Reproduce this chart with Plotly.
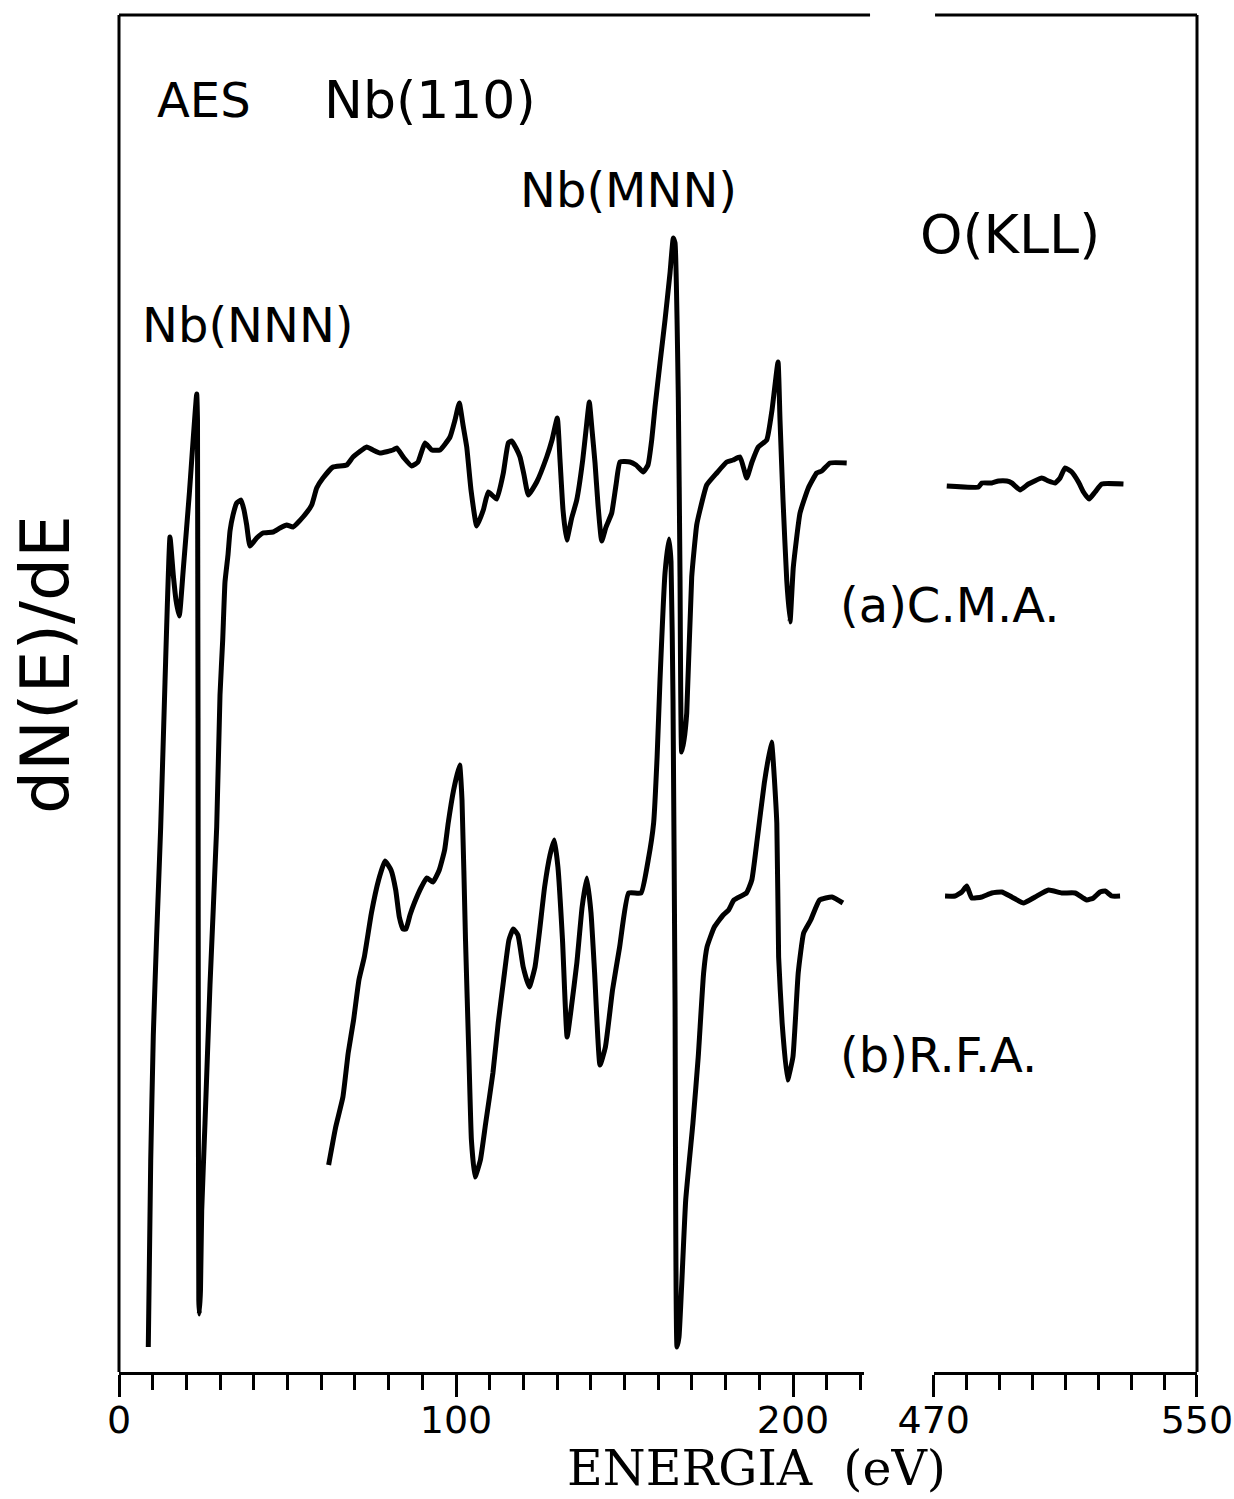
import plotly.graph_objects as go

# ---------------- data (energies in eV, dN/dE in arbitrary units) ----------------
a_low_E = [8.69, 9.41, 10.18, 11.19, 12.37, 13.65, 15.13, 16.11, 16.91, 17.89, 19.08, 20.86, 23.06, 23.29,
           23.53, 23.68, 23.83, 24.18, 24.54, 25.52, 27.00, 28.99, 29.97, 30.77, 31.45, 32.34, 32.94, 33.83,
           34.93, 36.20, 37.09, 37.89, 38.87, 40.86, 42.73, 45.70, 47.77, 49.76, 51.63, 54.60, 57.18, 58.66,
           60.53, 63.50, 67.57, 69.44, 73.50, 75.37, 77.45, 81.31, 82.40, 84.57, 86.85, 88.72, 90.80, 92.79,
           95.25, 98.22, 99.70, 100.98, 102.08, 103.18, 104.45, 106.14, 108.10, 109.58, 112.08, 114.04,
           115.52, 116.53, 117.80, 118.99, 120.18, 121.45, 123.95, 126.91, 128.49, 130.06, 130.86, 131.75,
           132.85, 134.33, 135.82, 137.60, 138.58, 139.55, 140.36, 141.25, 142.14, 143.23, 144.51, 146.20,
           147.48, 148.66, 151.63, 153.41, 155.58, 156.97, 158.07, 159.05, 160.53, 162.02, 163.50, 164.48,
           164.99, 165.96, 166.47, 166.97, 167.66, 168.46, 169.94, 171.42, 172.40, 174.39, 177.36, 180.33,
           182.20, 184.27, 186.26, 187.83, 189.70, 192.20, 193.77, 195.55, 196.14, 197.03, 198.13, 199.11,
           200.09, 202.08, 204.54, 207.03, 208.52, 210.98, 215.93]
a_low_I = [0.25, 2.11, 3.37, 4.38, 5.45, 6.90, 8.35, 7.97, 7.72, 7.56, 8.03, 8.78, 9.78, 9.52,
           3.62, 0.72, 0.58, 0.82, 1.61, 2.49, 3.87, 5.45, 6.77, 7.32, 7.90, 8.17, 8.41, 8.57,
           8.69, 8.72, 8.62, 8.47, 8.26, 8.34, 8.39, 8.40, 8.44, 8.47, 8.45, 8.55, 8.67, 8.84,
           8.94, 9.05, 9.07, 9.15, 9.25, 9.22, 9.19, 9.22, 9.24, 9.14, 9.06, 9.10, 9.29, 9.22,
           9.22, 9.35, 9.52, 9.69, 9.47, 9.25, 8.82, 8.46, 8.62, 8.80, 8.73, 8.99,
           9.29, 9.31, 9.24, 9.15, 8.97, 8.77, 8.90, 9.15, 9.32, 9.54, 9.12, 8.62,
           8.32, 8.54, 8.72, 9.12, 9.42, 9.70, 9.42, 9.09, 8.67, 8.31, 8.45, 8.59,
           8.87, 9.10, 9.10, 9.07, 9.00, 9.07, 9.32, 9.65, 10.09, 10.52, 10.99, 11.34,
           11.29, 9.75, 7.95, 6.20, 6.32, 6.59, 7.95, 8.47, 8.62, 8.87, 8.99, 9.10,
           9.12, 9.15, 8.94, 9.10, 9.25, 9.32, 9.62, 10.10, 9.52, 8.72, 7.92, 7.50,
           8.05, 8.59, 8.84, 8.99, 9.01, 9.09, 9.09]

a_high_E = [473.95, 483.59, 484.59, 487.63, 489.67, 492.19, 493.71, 496.23, 498.78, 502.83, 504.86,
            506.87, 508.39, 509.91, 511.95, 513.98, 515.50, 517.20, 519.03, 521.06, 527.66]
a_high_I = [8.86, 8.85, 8.89, 8.89, 8.91, 8.91, 8.89, 8.82, 8.88, 8.94, 8.91,
            8.89, 8.94, 9.04, 9.00, 8.90, 8.80, 8.73, 8.80, 8.88, 8.88]

b_low_E = [62.20, 64.30, 66.44, 68.01, 69.61, 71.19, 72.79, 74.90, 77.03, 78.93, 80.71, 82.11, 83.18,
           84.27, 85.16, 86.35, 87.63, 89.73, 91.34, 93.15, 95.04, 96.62, 97.69, 99.29, 101.07, 101.78,
           102.82, 103.83, 104.57, 105.64, 107.24, 108.81, 110.95, 112.52, 114.12, 115.70, 116.97, 118.37,
           119.94, 121.75, 123.44, 124.72, 126.29, 127.89, 129.17, 130.24, 131.60, 132.97, 134.24, 135.85,
           137.42, 138.81, 140.06, 141.13, 142.73, 144.33, 146.44, 148.55, 151.22, 154.90, 157.03, 158.64,
           159.67, 160.53, 162.02, 163.20, 163.80, 164.39, 164.99, 165.58, 166.17, 168.16, 170.30, 171.87,
           173.47, 174.48, 176.65, 179.29, 180.89, 182.46, 186.17, 187.77, 189.35, 191.48, 193.59, 195.19,
           195.73, 196.77, 198.37, 199.97, 201.54, 203.15, 205.25, 207.89, 211.57, 214.81]
b_low_I = [2.07, 2.45, 2.75, 3.19, 3.52, 3.92, 4.15, 4.59, 4.92, 5.11, 5.02, 4.82, 4.55,
           4.43, 4.43, 4.57, 4.69, 4.85, 4.94, 4.90, 5.02, 5.22, 5.49, 5.82, 6.07, 5.72,
           4.32, 3.15, 2.32, 1.95, 2.12, 2.49, 2.99, 3.49, 3.92, 4.32, 4.43, 4.37,
           4.05, 3.85, 4.05, 4.39, 4.85, 5.17, 5.32, 5.05, 4.32, 3.35, 3.65, 4.09,
           4.65, 4.94, 4.59, 3.99, 3.07, 3.25, 3.82, 4.25, 4.79, 4.79, 5.12, 5.49,
           6.15, 6.92, 7.99, 8.33, 8.10, 6.72, 3.72, 0.25, 0.35, 1.72, 2.49, 3.15,
           3.99, 4.25, 4.45, 4.57, 4.62, 4.72, 4.79, 4.92, 5.32, 5.89, 6.30, 5.49,
           4.15, 3.49, 2.92, 3.15, 3.99, 4.39, 4.52, 4.72, 4.75, 4.69]

b_high_E = [473.43, 476.47, 478.51, 480.03, 481.55, 484.59, 487.63, 490.67, 493.71, 497.26, 500.79,
            504.86, 508.91, 512.95, 516.50, 518.54, 520.55, 522.07, 524.10, 526.63]
b_high_I = [4.76, 4.76, 4.80, 4.86, 4.74, 4.75, 4.79, 4.80, 4.75, 4.69, 4.75,
            4.82, 4.79, 4.79, 4.72, 4.74, 4.80, 4.81, 4.76, 4.76]

low_tickvals = [0, 100, 200]
low_ticktext = ["0", "100", "200"]
high_tickvals = [470, 550]
high_ticktext = ["470", "550"]

# ---------------- figure ----------------
LINE = dict(color="black", width=5, shape="spline", smoothing=0.4)
fig = go.Figure()
fig.add_trace(go.Scatter(x=a_low_E, y=a_low_I, mode="lines", line=LINE, xaxis="x", yaxis="y"))
fig.add_trace(go.Scatter(x=b_low_E, y=b_low_I, mode="lines", line=LINE, xaxis="x", yaxis="y"))
fig.add_trace(go.Scatter(x=a_high_E, y=a_high_I, mode="lines", line=LINE, xaxis="x2", yaxis="y"))
fig.add_trace(go.Scatter(x=b_high_E, y=b_high_I, mode="lines", line=LINE, xaxis="x2", yaxis="y"))

tickfont = dict(family="DejaVu Sans", size=38, color="black")
common_x = dict(showline=True, linewidth=3, linecolor="black", ticks="outside", ticklen=22,
                tickwidth=3, tickcolor="black", showgrid=False, zeroline=False, tickfont=tickfont,
                fixedrange=True, ticklabeloverflow="allow", ticklabelstandoff=-10,
                automargin=False)

fig.update_layout(
    width=1234, height=1499,
    margin=dict(l=119, r=37, t=15, b=127),
    paper_bgcolor="white", plot_bgcolor="white",
    showlegend=False,
    xaxis=dict(domain=[0, 0.6909], range=[0, 221], tickmode="array", tickvals=low_tickvals,
               ticktext=low_ticktext, anchor="y",
               minor=dict(tickmode="linear", tick0=0, dtick=10, ticks="outside", ticklen=15,
                          tickwidth=3, tickcolor="black", showgrid=False),
               **common_x),
    xaxis2=dict(domain=[0.7558, 1.0], range=[470, 550.01], tickmode="array", tickvals=high_tickvals,
                ticktext=high_ticktext, anchor="y",
                minor=dict(tickmode="linear", tick0=470, dtick=10, ticks="outside", ticklen=15,
                           tickwidth=3, tickcolor="black", showgrid=False),
                **common_x),
    yaxis=dict(range=[0, 13.57], visible=False, fixedrange=True, automargin=False),
)

# frame (left, right, broken top)
frame = dict(color="black", width=3)
fig.add_shape(type="line", xref="paper", yref="paper", x0=0, x1=0, y0=0, y1=1, line=frame)
fig.add_shape(type="line", xref="paper", yref="paper", x0=1, x1=1, y0=0, y1=1, line=frame)
fig.add_shape(type="line", xref="paper", yref="paper", x0=0, x1=0.6967, y0=1, y1=1, line=frame)
fig.add_shape(type="line", xref="paper", yref="paper", x0=0.757, x1=1, y0=1, y1=1, line=frame)

labels = [
    ("AES", 0.0334, 0.9374, 48),
    ("Nb(110)", 0.1883, 0.9374, 52),
    ("Nb(MNN)", 0.3701, 0.8710, 48),
    ("O(KLL)", 0.7412, 0.8379, 54),
    ("Nb(NNN)", 0.0195, 0.7715, 48),
    ("(a)C.M.A.", 0.667, 0.5652, 48),
    ("(b)R.F.A.", 0.667, 0.2336, 48),
]
for t, x, y, s in labels:
    fig.add_annotation(text=t, x=x, y=y, xref="paper", yref="paper", xanchor="left",
                       yanchor="middle", showarrow=False,
                       font=dict(family="DejaVu Sans", size=s, color="black"))

fig.add_annotation(text="ENERGIA  (eV)", x=0.591, y=-0.0936, xref="paper", yref="paper",
                   xanchor="center", yanchor="bottom", showarrow=False,
                   font=dict(family="DejaVu Serif", size=49, color="black"))
fig.add_annotation(text="dN(E)/dE", x=-0.0686, y=0.521, xref="paper", yref="paper",
                   xanchor="center", yanchor="middle", showarrow=False, textangle=-90,
                   font=dict(family="DejaVu Sans", size=68, color="black"))

fig.write_html("out.html", config={"displayModeBar": False},
               post_script="document.body.style.margin='0';document.body.style.overflow='hidden';")
